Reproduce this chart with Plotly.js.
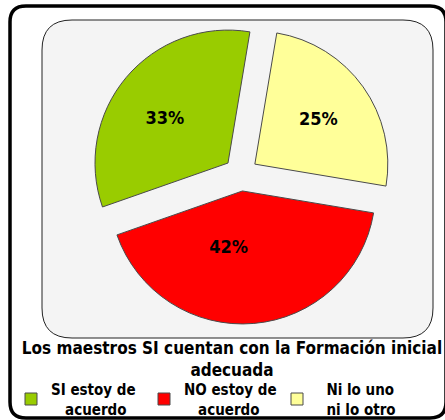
<!DOCTYPE html>
<html>
<head>
<meta charset="utf-8">
<script src="https://cdn.plot.ly/plotly-3.0.1.min.js"></script>
<style>
  html, body { margin: 0; padding: 0; background: #ffffff; }
  #chart { width: 445px; height: 420px; }
</style>
</head>
<body>
<div id="chart"></div>
<script>
// ---- data ----
const categories = ["SI estoy de<br>\u00A0\u00A0\u00A0acuerdo", "NO estoy de<br>\u00A0\u00A0\u00A0acuerdo", "\u00A0\u00A0Ni lo uno<br>\u00A0\u00A0ni lo otro"];
const values = [33, 42, 25];
const colors = ["#99CC00", "#FF0000", "#FFFF99"];
const chartTitle = "Los maestros SI cuentan con la Formación inicial<br>adecuada";

// ---- layout geometry ----
const W = 445, H = 420;
const M = { l: 37, r: 0, t: 24, b: 96 };
const PW = W - M.l - M.r, PH = H - M.t - M.b;
const px = x => (x - M.l) / PW;
const py = y => 1 - (y - M.t) / PH;

function roundRect(x0, y0, x1, y1, r) {
  const p = (x, y) => px(x) + "," + py(y);
  return "M" + p(x0 + r, y0) +
    " L" + p(x1 - r, y0) + " Q" + p(x1, y0) + " " + p(x1, y0 + r) +
    " L" + p(x1, y1 - r) + " Q" + p(x1, y1) + " " + p(x1 - r, y1) +
    " L" + p(x0 + r, y1) + " Q" + p(x0, y1) + " " + p(x0, y1 - r) +
    " L" + p(x0, y0 + r) + " Q" + p(x0, y0) + " " + p(x0 + r, y0) + " Z";
}

const FONT = "'DejaVu Sans Condensed', 'DejaVu Sans', sans-serif";
const NB = "\u00A0";

const trace = {
  type: "pie",
  labels: categories,
  values: values,
  sort: false,
  direction: "counterclockwise",
  rotation: -109.3,
  pull: [0.128, 0.128, 0.128],
  marker: { colors: colors, line: { color: "#4a4a4a", width: 1 } },
  texttemplate: ["%{percent}" + NB.repeat(3), "%{percent}" + NB.repeat(7) + "<br>" + NB, "%{percent}"],
  textposition: "inside",
  insidetextorientation: "horizontal",
  textfont: { family: FONT, size: 18, color: "#000000", weight: "bold" },
  hoverinfo: "none"
};

const layout = {
  width: W, height: H,
  margin: M,
  paper_bgcolor: "#ffffff",
  plot_bgcolor: "rgba(0,0,0,0)",
  showlegend: true,
  title: {
    text: chartTitle,
    font: { family: FONT, size: 17, color: "#000000", weight: "bold" },
    xref: "container", x: 232 / W, xanchor: "center",
    yref: "container", y: 1 - 354 / H, yanchor: "top"
  },
  legend: {
    orientation: "h",
    xref: "container", x: 11 / W, xanchor: "left",
    yref: "container", y: 1 - 373 / H, yanchor: "top",
    font: { family: FONT, size: 15, color: "#000000", weight: "bold" },
    bgcolor: "rgba(0,0,0,0)",
    traceorder: "normal",
    entrywidth: 88,
    entrywidthmode: "pixels"
  },
  shapes: [
    { type: "path", xref: "paper", yref: "paper", layer: "below",
      path: roundRect(10, 6, 446, 418, 16),
      line: { color: "#000000", width: 3.5 }, fillcolor: "#ffffff" },
    { type: "path", xref: "paper", yref: "paper", layer: "below",
      path: roundRect(42, 20, 433, 338, 30),
      line: { color: "#222222", width: 1 }, fillcolor: "#F4F4F4" }
  ]
};

Plotly.newPlot("chart", [trace], layout, { displayModeBar: false, staticPlot: true });
</script>
</body>
</html>
